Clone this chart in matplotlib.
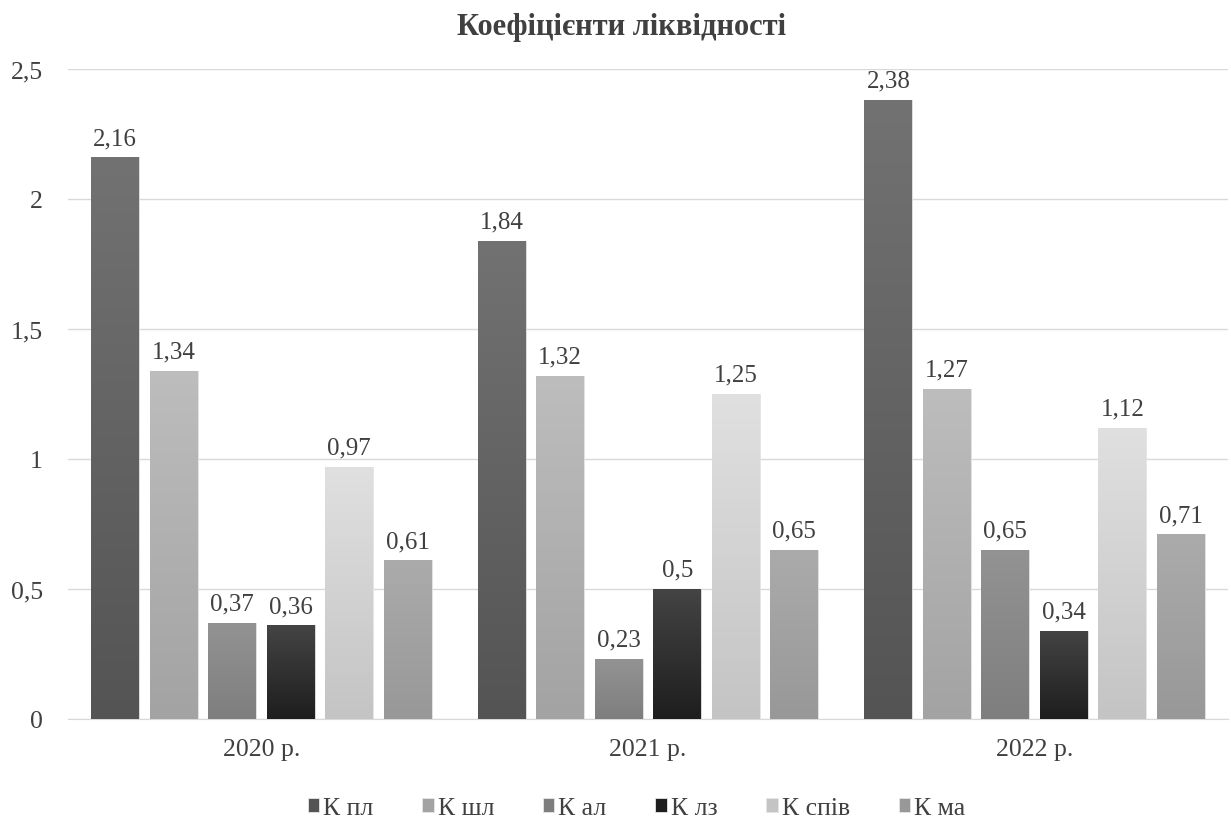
import numpy as np
import matplotlib.pyplot as plt
from matplotlib.colors import LinearSegmentedColormap

plt.rcParams['font.family'] = ['Liberation Serif', 'DejaVu Serif']

years = ["2020 р.", "2021 р.", "2022 р."]
series = ["К пл", "К шл", "К ал", "К лз", "К спів", "К ма"]
k_pl = [2.16, 1.84, 2.38]
k_shl = [1.34, 1.32, 1.27]
k_al = [0.37, 0.23, 0.65]
k_lz = [0.36, 0.50, 0.34]
k_spiv = [0.97, 1.25, 1.12]
k_ma = [0.61, 0.65, 0.71]
values = [k_pl, k_shl, k_al, k_lz, k_spiv, k_ma]

# top colour, bottom colour for the gradient fill
shades = [("#727272", "#545454"), ("#bdbdbd", "#a3a3a3"), ("#939393", "#7e7e7e"),
          ("#444444", "#1e1e1e"), ("#e0e0e0", "#c4c4c4"), ("#ababab", "#989898")]

fig = plt.figure(figsize=(12.31, 8.2), dpi=100)
ax = fig.add_axes([68 / 1231, 100 / 820, 1160 / 1231, 650 / 820])

x = np.arange(len(years))
step = 0.1513
width = 0.124
grad = np.linspace(0, 1, 256).reshape(-1, 1)

for i, (vals, (top, bot)) in enumerate(zip(values, shades)):
    pos = x + (i - 2.5) * step
    bars = ax.bar(pos, vals, width, color=bot, label=series[i], zorder=2,
                  edgecolor="#e6e6e6", linewidth=0.6)
    cmap = LinearSegmentedColormap.from_list("g%d" % i, [bot, top])
    for b, v in zip(bars, vals):
        bx = b.get_x()
        im = ax.imshow(grad, cmap=cmap, aspect="auto", origin="lower",
                       extent=[bx, bx + width, 0, v], zorder=3)
        im.set_clip_path(b)
        txt = ("%g" % v).replace(".", ",")
        ax.annotate(txt, (bx + width / 2, v), xytext=(0, 6), textcoords="offset points",
                    ha="center", va="bottom", fontsize=18, color="#404040", zorder=4)

ax.set_xlim(-0.5, 2.5)
ax.set_ylim(0, 2.5)
ax.set_yticks([0, 0.5, 1, 1.5, 2, 2.5])
ax.set_yticklabels(["0", "0,5", "1", "1,5", "2", "2,5"])
ax.set_xticks(x)
ax.set_xticklabels(years)
ax.tick_params(axis="both", length=0, labelsize=18.5, colors="#404040")
ax.tick_params(axis="x", pad=14)
ax.tick_params(axis="y", pad=18)
ax.grid(axis="y", color="#d9d9d9", linewidth=1, zorder=0)
for s in ["top", "right", "left"]:
    ax.spines[s].set_visible(False)
ax.spines["bottom"].set_color("#d9d9d9")

fig.text(622 / 1231, 1 - 27 / 820, "Коефіцієнти ліквідності", fontsize=22,
         fontweight="bold", color="#404040", ha="center", va="center")

leg = ax.legend(loc="upper center", bbox_to_anchor=(0.490, -0.085), ncol=6,
                frameon=False, fontsize=18.5, handlelength=0.45, handleheight=0.45,
                handletextpad=0.15, columnspacing=1.9, labelcolor="#404040")

fig.savefig("out.png", dpi=100)
